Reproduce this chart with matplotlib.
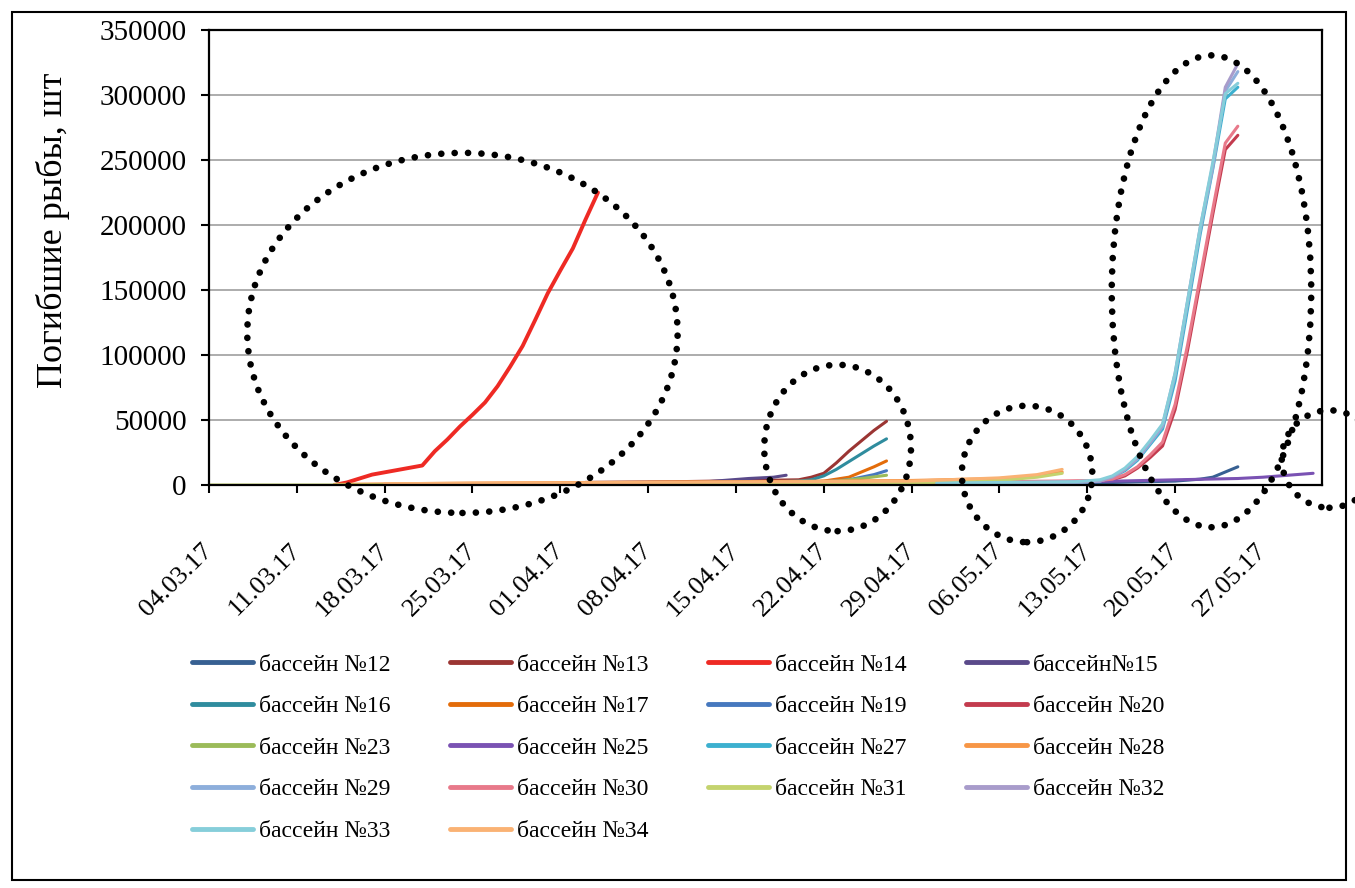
import matplotlib
matplotlib.use('Agg')
import matplotlib.pyplot as plt
import matplotlib.dates as mdates
from matplotlib.patches import Ellipse, Rectangle
import pandas as pd

plt.rcParams['font.family'] = ['Liberation Serif', 'DejaVu Serif']

# cumulative dead fish per pool (dates dd.mm.yy)
d12 = ['01.05.17', '13.05.17', '20.05.17', '22.05.17', '23.05.17', '24.05.17', '25.05.17']
v12 = [500, 1500, 3000, 4500, 6000, 10000, 14000]

d13 = ['03.04.17', '10.04.17', '20.04.17', '21.04.17', '22.04.17', '23.04.17', '24.04.17', '25.04.17', '26.04.17', '27.04.17']
v13 = [2000, 2500, 4000, 6000, 9000, 17000, 26000, 34000, 42000, 49000]

d14 = ['14.03.17', '15.03.17', '17.03.17', '21.03.17', '22.03.17', '23.03.17', '24.03.17', '25.03.17', '26.03.17',
       '27.03.17', '28.03.17', '29.03.17', '30.03.17', '31.03.17', '01.04.17', '02.04.17', '03.04.17', '04.04.17']
v14 = [0, 2000, 8000, 15000, 26000, 35000, 45000, 54000, 63500,
       76000, 91000, 107000, 127000, 147500, 165000, 182000, 204000, 225000]

d15 = ['25.03.17', '10.04.17', '14.04.17', '16.04.17', '18.04.17', '19.04.17']
v15 = [0, 500, 3500, 5000, 6000, 7500]

d16 = ['14.04.17', '20.04.17', '21.04.17', '22.04.17', '23.04.17', '24.04.17', '25.04.17', '26.04.17', '27.04.17']
v16 = [1500, 3000, 4000, 7000, 12000, 18000, 24000, 30000, 35500]

d17 = ['08.04.17', '21.04.17', '22.04.17', '23.04.17', '24.04.17', '25.04.17', '26.04.17', '27.04.17']
v17 = [2000, 2500, 3000, 4500, 6000, 10000, 14000, 18500]

d19 = ['14.04.17', '22.04.17', '24.04.17', '25.04.17', '26.04.17', '27.04.17']
v19 = [1000, 2500, 4000, 6000, 8000, 11000]

d20 = ['29.04.17', '10.05.17', '14.05.17', '15.05.17', '16.05.17', '17.05.17', '18.05.17', '19.05.17',
       '20.05.17', '21.05.17', '22.05.17', '23.05.17', '24.05.17', '25.05.17']
v20 = [1500, 2500, 3000, 4000, 7000, 13000, 21000, 30000, 58000, 104000, 156000, 208000, 258000, 269000]

d23 = ['14.03.17', '08.04.17', '20.04.17', '23.04.17', '25.04.17', '27.04.17']
v23 = [0, 500, 1500, 3000, 5000, 7500]

d25 = ['29.04.17', '13.05.17', '20.05.17', '25.05.17', '27.05.17', '31.05.17']
v25 = [1000, 2500, 4000, 5000, 6000, 9000]

d27 = ['01.05.17', '12.05.17', '14.05.17', '15.05.17', '16.05.17', '17.05.17', '18.05.17', '19.05.17',
       '20.05.17', '21.05.17', '22.05.17', '23.05.17', '24.05.17', '25.05.17']
v27 = [1000, 2000, 3000, 6000, 11000, 19000, 31000, 43000, 80000, 136000, 193000, 243000, 297000, 306000]

d28 = ['14.03.17', '25.03.17', '15.04.17', '29.04.17', '06.05.17', '09.05.17', '11.05.17']
v28 = [500, 1500, 2500, 3500, 5000, 7000, 10000]

d29 = ['01.05.17', '12.05.17', '14.05.17', '15.05.17', '16.05.17', '17.05.17', '18.05.17', '19.05.17',
       '20.05.17', '21.05.17', '22.05.17', '23.05.17', '24.05.17', '25.05.17']
v29 = [500, 1500, 3000, 6000, 12000, 20000, 32000, 45000, 84000, 140000, 196000, 244000, 303000, 318000]

d30 = ['29.04.17', '10.05.17', '14.05.17', '15.05.17', '16.05.17', '17.05.17', '18.05.17', '19.05.17',
       '20.05.17', '21.05.17', '22.05.17', '23.05.17', '24.05.17', '25.05.17']
v30 = [2000, 3000, 3500, 4500, 8000, 14000, 23000, 33000, 62000, 108000, 160000, 212000, 263000, 276000]

d31 = ['04.03.17', '14.03.17', '29.04.17', '06.05.17', '09.05.17', '11.05.17']
v31 = [0, 0, 1500, 3500, 6000, 9000]

d32 = ['01.05.17', '14.05.17', '15.05.17', '16.05.17', '17.05.17', '18.05.17', '19.05.17',
       '20.05.17', '21.05.17', '22.05.17', '23.05.17', '24.05.17', '25.05.17']
v32 = [500, 3000, 6000, 12000, 21000, 33000, 46000, 86000, 142000, 198000, 246000, 306000, 324000]

d33 = ['01.05.17', '12.05.17', '14.05.17', '15.05.17', '16.05.17', '17.05.17', '18.05.17', '19.05.17',
       '20.05.17', '21.05.17', '22.05.17', '23.05.17', '24.05.17', '25.05.17']
v33 = [1500, 2500, 4000, 7000, 13000, 22000, 34000, 47000, 86000, 142000, 198000, 248000, 301000, 309000]

d34 = ['18.03.17', '08.04.17', '29.04.17', '06.05.17', '09.05.17', '11.05.17']
v34 = [1000, 2000, 3000, 5500, 8000, 12000]

series = [
    ('бассейн №12', d12, v12, '#376092'),
    ('бассейн №13', d13, v13, '#9b3533'),
    ('бассейн №14', d14, v14, '#ee2a24'),
    ('бассейн№15', d15, v15, '#5a4a8a'),
    ('бассейн №16', d16, v16, '#2f8c9e'),
    ('бассейн №17', d17, v17, '#e36c0a'),
    ('бассейн №19', d19, v19, '#4678be'),
    ('бассейн №20', d20, v20, '#c33b4e'),
    ('бассейн №23', d23, v23, '#9bbb59'),
    ('бассейн №25', d25, v25, '#7a52b3'),
    ('бассейн №27', d27, v27, '#3cb0cf'),
    ('бассейн №28', d28, v28, '#f79646'),
    ('бассейн №29', d29, v29, '#8daedb'),
    ('бассейн №30', d30, v30, '#e8798a'),
    ('бассейн №31', d31, v31, '#c4d36e'),
    ('бассейн №32', d32, v32, '#a89ccb'),
    ('бассейн №33', d33, v33, '#86ceda'),
    ('бассейн №34', d34, v34, '#fab274'),
]

fig = plt.figure(figsize=(13.55, 8.88), dpi=100)
ax = fig.add_axes([209 / 1355, 1 - 485 / 888, (1322 - 209) / 1355, (485 - 30) / 888])

for label, d, v, c in series:
    lw = 2.8 if label.endswith('14') else 2.2
    ax.plot(pd.to_datetime(d, format='%d.%m.%y'), v, color=c, lw=lw, label=label, solid_capstyle='round')

start = pd.Timestamp('2017-03-04')
ax.set_xlim(start, pd.Timestamp('2017-05-31 17:00'))
ax.set_xticks(pd.date_range(start, '2017-05-27', freq='7D'))
ax.xaxis.set_major_formatter(mdates.DateFormatter('%d.%m.%y'))
ax.set_ylim(0, 350000)
ax.set_yticks(range(0, 350001, 50000))
ax.yaxis.grid(True, color='#a6a6a6', lw=1.3)
ax.set_axisbelow(True)

for s in ax.spines.values():
    s.set_color('black')
    s.set_linewidth(1.6)
ax.tick_params(axis='y', direction='out', length=6, width=1.5, labelsize=21, pad=10)
ax.tick_params(axis='x', direction='out', length=6, width=1.5, labelsize=19, pad=39)
plt.setp(ax.get_xticklabels(), rotation=45, ha='right', va='center', rotation_mode='anchor')

ax.set_ylabel('Погибшие рыбы, шт', fontsize=26)
ax.yaxis.set_label_coords(-0.125, 0.56)

# dotted ellipses: (center day from 04.03, center value, width days, height value)
ellipses = [(20.2, 117000, 34.3, 277000), (50.1, 28500, 11.7, 128000), (65.2, 8500, 10.4, 105000),
            (79.9, 149000, 15.9, 363000), (89.3, 20000, 7.6, 75000)]
x0 = mdates.date2num(start)
for cx, cy, w, h in ellipses:
    e = Ellipse((x0 + cx, cy), w, h, fill=False, ec='black', lw=4.8,
                ls=(0, (0.01, 2.0)), clip_on=False, zorder=5)
    e.set_capstyle('round')
    ax.add_patch(e)

handles, labels = ax.get_legend_handles_labels()
order = [0, 4, 8, 12, 16, 1, 5, 9, 13, 17, 2, 6, 10, 14, 3, 7, 11, 15]
leg = fig.legend([handles[i] for i in order], [labels[i] for i in order], ncol=4,
                 loc='upper left', bbox_to_anchor=(192 / 1355, 1 - 654 / 888), frameon=False,
                 fontsize=17, handlelength=2.6, handletextpad=0.25, columnspacing=2.5,
                 labelspacing=0.85, borderpad=0, borderaxespad=0)
for line in leg.get_lines():
    line.set_linewidth(3.5)

fig.add_artist(Rectangle((12 / 1355, 8 / 888), (1346 - 12) / 1355, (876 - 8) / 888,
                         transform=fig.transFigure, fill=False, ec='black', lw=1.5))

fig.savefig('out.png', dpi=100)
